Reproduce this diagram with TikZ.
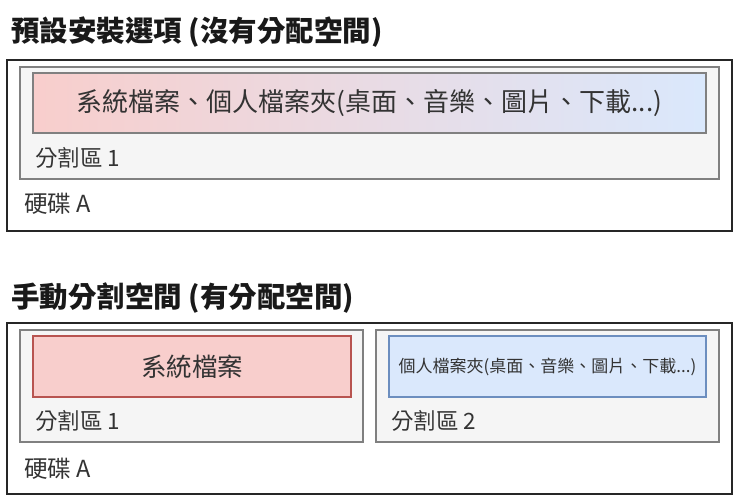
\documentclass[tikz,border=0pt]{standalone}
\usepackage{fontspec}
\setmainfont{Noto Sans CJK TC}
\definecolor{txt}{HTML}{333333}
\definecolor{redf}{HTML}{F8CECC}
\definecolor{redd}{HTML}{B85450}
\definecolor{bluef}{HTML}{DAE8FC}
\definecolor{blued}{HTML}{6C8EBF}
\definecolor{partf}{HTML}{F5F5F5}
\definecolor{partd}{HTML}{808080}
\tikzset{
  box/.style={rectangle, inner sep=0pt, outer sep=0pt},
  disk/.style={box, draw=black!85, line width=1.4pt, fill=white},
  part/.style={box, draw=partd, line width=1.2pt, fill=partf},
  redbox/.style={box, draw=redd, line width=1.1pt, fill=redf},
  bluebox/.style={box, draw=blued, line width=1.1pt, fill=bluef},
  gradbox/.style={box, draw=partd, line width=1.1pt, left color=redf, right color=bluef},
  lbl/.style={inner sep=0pt, anchor=west, text=txt},
  ttl/.style={inner sep=0pt, anchor=west, text=black!90, font=\fontsize{28.5}{31}\selectfont\bfseries},
}
\begin{document}
\begin{tikzpicture}[x=1pt, y=-1pt]
\useasboundingbox[fill=white] (0,0) rectangle (740,503);

% top section
\node[ttl] (t1) at (11,32) {預設安裝選項 (沒有分配空間)};
\node[disk, minimum width=725pt, minimum height=171pt] (d1) at (369.5,145.5) {};
\node[part, minimum width=699pt, minimum height=112pt] (p1) at (369.5,123) {};
\node[gradbox, minimum width=673pt, minimum height=60pt, text=txt,
  font=\fontsize{26}{29}\selectfont] (g1) at (369.5,103) {系統檔案、個人檔案夾(桌面、音樂、圖片、下載...)};
\node[lbl, font=\fontsize{22.5}{25}\selectfont] (l1) at (35,158) {分割區 1};
\node[lbl, font=\fontsize{23.5}{26}\selectfont] (h1) at (24,204) {硬碟 A};

% bottom section
\node[ttl] (t2) at (11,298) {手動分割空間 (有分配空間)};
\node[disk, minimum width=725pt, minimum height=171pt] (d2) at (369.5,408.5) {};
\node[part, minimum width=343pt, minimum height=112pt] (p2a) at (191.5,386) {};
\node[part, minimum width=343pt, minimum height=112pt] (p2b) at (547.5,386) {};
\node[redbox, minimum width=318pt, minimum height=61pt, text=txt,
  font=\fontsize{25.5}{28}\selectfont] (r2) at (192,366.5) {系統檔案};
\node[bluebox, minimum width=317pt, minimum height=61pt, text=txt,
  font=\fontsize{17}{20}\selectfont] (b2) at (547.5,366.5) {個人檔案夾(桌面、音樂、圖片、下載...)};
\node[lbl, font=\fontsize{22.5}{25}\selectfont] (l2a) at (35,421) {分割區 1};
\node[lbl, font=\fontsize{22.5}{25}\selectfont] (l2b) at (391,421) {分割區 2};
\node[lbl, font=\fontsize{23.5}{26}\selectfont] (h2) at (24,469) {硬碟 A};
\end{tikzpicture}
\end{document}
